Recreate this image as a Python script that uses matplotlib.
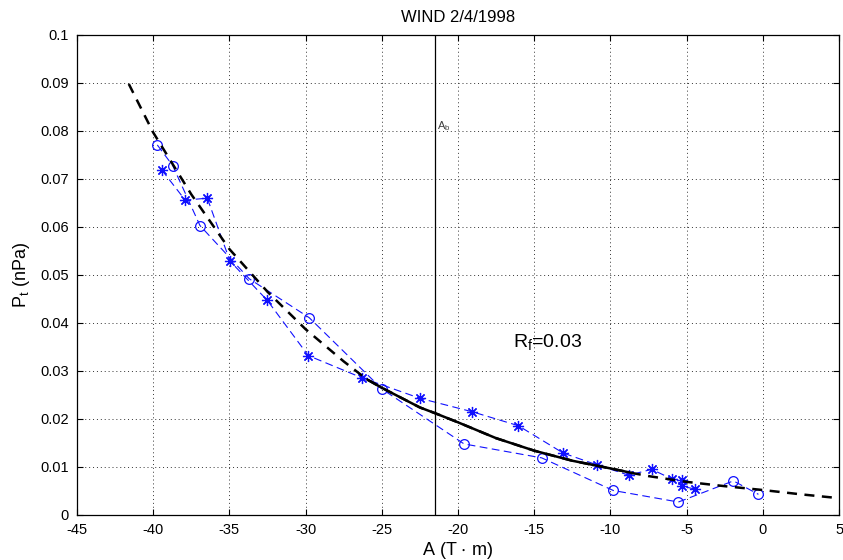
import matplotlib.pyplot as plt

plt.rcParams['font.family'] = ['Liberation Sans', 'DejaVu Sans']
plt.rcParams['mathtext.default'] = 'regular'
plt.rcParams['axes.unicode_minus'] = False

# fitted curve
fit_x = [-41.6, -40, -37.5, -35, -32.5, -30, -27.5, -26, -25, -22.5, -21.5, -20,
         -17.5, -15, -12.5, -10, -8.5, -7.5, -5, -2.5, 0, 2.5, 5]
fit_y = [0.0898, 0.0797, 0.0668, 0.0554, 0.0465, 0.0387, 0.0320, 0.0283, 0.0265,
         0.0224, 0.0212, 0.0193, 0.0160, 0.0134, 0.0113, 0.0097, 0.0087, 0.0081,
         0.0069, 0.0060, 0.0052, 0.0043, 0.0035]
solid_from, solid_to = -26, -8.5

# circles series
circ_x = [-39.73, -38.72, -36.93, -33.69, -29.76, -24.97, -19.6, -14.51, -9.81, -5.54, -1.93, -0.29]
circ_y = [0.0771, 0.0728, 0.0603, 0.0492, 0.0411, 0.0262, 0.0148, 0.0119, 0.0051, 0.0027, 0.0071, 0.0043]

# stars series
star_x = [-39.44, -37.9, -36.45, -34.96, -32.51, -29.82, -26.32, -22.49, -19.06, -16.04,
          -13.1, -10.85, -8.8, -7.29, -5.96, -5.32, -5.32, -4.45]
star_y = [0.0719, 0.0656, 0.0660, 0.0529, 0.0447, 0.0332, 0.0286, 0.0243, 0.0215, 0.0186,
          0.0129, 0.0104, 0.0083, 0.0095, 0.0075, 0.0072, 0.0060, 0.0054]

a_b = -21.5
x_ticks = list(range(-45, 6, 5))
y_ticks = [0, 0.01, 0.02, 0.03, 0.04, 0.05, 0.06, 0.07, 0.08, 0.09, 0.1]
y_labels = ['0', '0.01', '0.02', '0.03', '0.04', '0.05', '0.06', '0.07', '0.08', '0.09', '0.1']

fig = plt.figure(figsize=(8.43, 5.6), dpi=100)
ax = fig.add_axes([0.0913, 0.0804, 0.904, 0.8571])

blue = '#1010ff'
ax.plot(circ_x, circ_y, linestyle=(0, (7, 4)), color=blue, lw=0.8, marker='o',
        markersize=7, markerfacecolor='none', markeredgecolor=blue, markeredgewidth=0.9)
ax.plot(star_x, star_y, linestyle=(0, (7, 4)), color=blue, lw=0.8, marker=(8, 2, 0),
        markersize=8, markeredgecolor=blue, markeredgewidth=0.9)

ax.plot(fit_x, fit_y, color='black', lw=1.8, linestyle=(0, (4, 3)))
sx = [x for x in fit_x if solid_from <= x <= solid_to]
sy = [y for x, y in zip(fit_x, fit_y) if solid_from <= x <= solid_to]
ax.plot(sx, sy, color='black', lw=1.8, solid_capstyle='butt')

ax.axvline(a_b, color='black', lw=0.9)
ax.text(a_b + 0.1, 0.0795, 'A$_b$', fontsize=8, color='0.25', va='bottom', ha='left')
ax.text(-16.4, 0.035, 'R$_f$=0.03', fontsize=14, va='baseline', ha='left')

ax.set_xlim(-45, 5)
ax.set_ylim(0, 0.1)
ax.set_xticks(x_ticks)
ax.set_yticks(y_ticks)
ax.set_yticklabels(y_labels)
ax.tick_params(direction='in', top=True, right=True, length=4, labelsize=10.5, pad=6)
ax.grid(True, linestyle=(0, (1, 3)), color='0.2', lw=0.7)
for s in ax.spines.values():
    s.set_linewidth(0.9)

ax.set_title('WIND 2/4/1998', fontsize=12, pad=9)
ax.set_xlabel('A (T $\\cdot$ m)', fontsize=13, labelpad=2)
ax.set_ylabel('P$_t$ (nPa)', fontsize=13, labelpad=6)

plt.savefig('out.png', dpi=100)
plt.close()
